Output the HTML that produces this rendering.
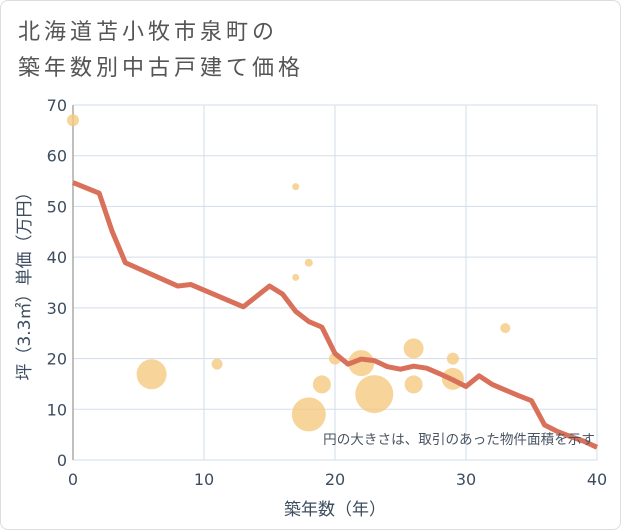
<!DOCTYPE html>
<html><head><meta charset="utf-8"><style>
html,body{margin:0;padding:0;background:#fff}
body{width:621px;height:530px;overflow:hidden;font-family:"Liberation Sans","Noto Sans CJK JP",sans-serif}
.card{position:absolute;left:0;top:0;width:619px;height:528px;border:1px solid #ddd;border-radius:8px;background:#fff}
.title{position:absolute;left:18px;top:14px;font-size:22px;line-height:36px;letter-spacing:4px;color:#555;font-family:"Liberation Sans","Noto Sans CJK JP",sans-serif}
</style></head><body>
<div class="card"></div>
<div class="title">北海道苫小牧市泉町の<br>築年数別中古戸建て価格</div>
<svg id="chart" width="621" height="530" style="position:absolute;left:0;top:0"></svg>
<script>
const xTicks=[0,10,20,30,40];
const yTicks=[0,10,20,30,40,50,60,70];
const lineYears=[0,2,3,4,8,9,13,15,16,17,18,19,20,21,22,23,24,25,26,27,28,29,30,31,32,33,34,35,36,37,38,39,40];
const linePrices=[54.7,52.6,45.0,38.9,34.3,34.6,30.2,34.3,32.7,29.3,27.3,26.2,21.0,18.9,19.9,19.6,18.4,17.9,18.5,18.1,17.0,15.8,14.5,16.6,14.9,13.8,12.7,11.7,6.9,5.6,4.6,3.7,2.5];
const bubbleYears=[0,6,11,17,18,17,18,19,20,22,23,26,26,29,29,33];
const bubblePrices=[67,16.9,18.9,53.9,38.9,36,9,14.9,20,19.1,13,22,14.9,20,16,26];
const bubbleSizes=[6,15,5.5,3.5,4,3.5,17,9,6,13,19,10,9,6,11,5];
const NS="http://www.w3.org/2000/svg";
const svg=document.getElementById('chart');
const X0=73,X1=597,Y0=460,Y1=105;
const TF='"DejaVu Sans","Noto Sans CJK JP",sans-serif';
const sx=v=>X0+(v-0)/(40-0)*(X1-X0);
const sy=v=>Y0-(v-0)/(70-0)*(Y0-Y1);
function mk(t,a){const e=document.createElementNS(NS,t);for(const k in a)e.setAttribute(k,a[k]);svg.appendChild(e);return e;}
for(const t of xTicks){
 const g=mk('line',{x1:sx(t),x2:sx(t),y1:Y1,y2:Y0,stroke:'#d3dde8','stroke-width':1});
 
 
 const l=mk('text',{x:sx(t),y:Y0+25,'text-anchor':'middle','font-size':16,fill:'#3d4d5f','font-family':TF});
 l.textContent=t;
 
 
}
for(const t of yTicks){
 const g=mk('line',{x1:X0,x2:X1,y1:sy(t),y2:sy(t),stroke:'#d3dde8','stroke-width':1});
 
 
 const l=mk('text',{x:X0-6,y:sy(t)+6,'text-anchor':'end','font-size':16,fill:'#3d4d5f','font-family':TF});
 l.textContent=t;
 
 
}
const ax=mk('line',{x1:X0,x2:X0,y1:Y1,y2:Y0,stroke:'#aaa','stroke-width':1.5});


bubbleYears.forEach((yr,i)=>{
 const c=mk('circle',{cx:sx(yr),cy:sy(bubblePrices[i]),r:bubbleSizes[i],fill:'#f5c97f','fill-opacity':0.8});
 
 
});
const pts=lineYears.map((yr,i)=>sx(yr)+','+sy(linePrices[i])).join(' ');
const pl=mk('polyline',{points:pts,fill:'none',stroke:'#d9705a','stroke-width':5,'stroke-linejoin':'round'});


const note=mk('text',{x:595,y:444,'text-anchor':'end','font-size':13.6,fill:'#4a5563'});
note.textContent='円の大きさは、取引のあった物件面積を示す';


const xt=mk('text',{x:(X0+X1)/2,y:515,'text-anchor':'middle','font-size':17,fill:'#3d4d5f','font-family':TF});
xt.textContent='築年数（年）';


const yt=mk('text',{x:0,y:0,'text-anchor':'middle','font-size':17,fill:'#3d4d5f','font-family':TF,transform:'translate(30,282) rotate(-90)'});
yt.textContent='坪（3.3㎡）単価（万円）';


</script>
</body></html>
